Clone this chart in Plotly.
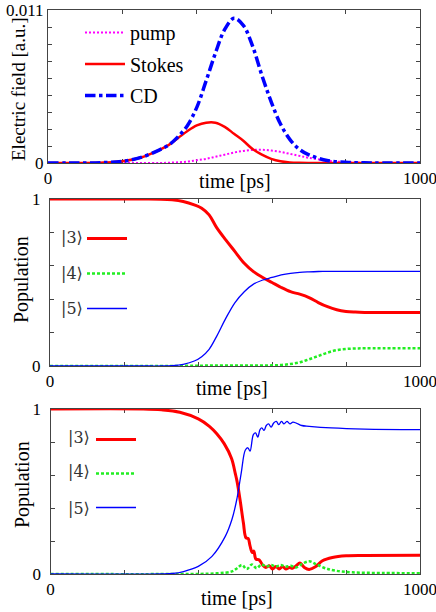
import plotly.graph_objects as go

W, H = 436, 612

# ---- panel 1: electric fields ----
p1_t = [0, 50, 100, 150, 200, 250, 300, 325, 350, 375, 400, 425, 450, 475, 500,
        525, 550, 575, 600, 625, 650, 675, 700, 750, 800, 850, 900, 1000]
p1_pump = [0, 0, 0, 0, 0, 0, 0, 0.00002, 0.00005, 0.0001, 0.0002, 0.0003, 0.00045, 0.0006, 0.00075,
           0.00087, 0.00094, 0.00095, 0.0009, 0.0008, 0.00066, 0.00052, 0.00038, 0.00017, 0.00006, 0.00002, 0, 0]
p1_stokes = [0, 0, 0, 0.00003, 0.00012, 0.0004, 0.00095, 0.0013, 0.0018, 0.0023, 0.0027, 0.0029, 0.0029, 0.0026, 0.0021,
             0.0016, 0.001, 0.0006, 0.0003, 0.00012, 0.00004, 0.00001, 0, 0, 0, 0, 0, 0]
p1_cd = [0, 0, 0, 0.00003, 0.00012, 0.0004, 0.00095, 0.0013, 0.0019, 0.0027, 0.004, 0.0059, 0.0079, 0.0096, 0.0104,
         0.0099, 0.0084, 0.0063, 0.0044, 0.0028, 0.0017, 0.001, 0.0006, 0.00018, 0.00005, 0.00001, 0, 0]

# ---- panel 2: populations ----
p2_t = [0, 250, 300, 330, 360, 390, 410, 430, 450, 475, 500, 525, 550, 575, 600,
        625, 650, 675, 700, 725, 750, 775, 800, 825, 850, 900, 1000]
p2_s3 = [1, 1, 0.999, 0.995, 0.985, 0.965, 0.945, 0.905, 0.83, 0.755, 0.685, 0.615, 0.565, 0.53, 0.5,
         0.47, 0.445, 0.43, 0.41, 0.38, 0.355, 0.337, 0.327, 0.323, 0.321, 0.32, 0.32]
p2_s4 = [0, 0, 0, 0, 0.001, 0.002, 0.002, 0.003, 0.003, 0.003, 0.003, 0.003, 0.003, 0.003, 0.004,
         0.006, 0.012, 0.022, 0.04, 0.06, 0.08, 0.095, 0.102, 0.105, 0.106, 0.106, 0.106]
p2_s5 = [0, 0, 0, 0.002, 0.01, 0.03, 0.056, 0.1, 0.176, 0.285, 0.38, 0.445, 0.49, 0.515, 0.53,
         0.545, 0.555, 0.561, 0.564, 0.566, 0.567, 0.567, 0.567, 0.567, 0.567, 0.567, 0.567]

# ---- panel 3: populations ----
p3_t3 = [0, 250, 300, 350, 400, 430, 450, 470, 490, 500, 505, 513, 522, 529, 535, 540, 546, 550, 556, 565,
         574, 583, 592, 601, 610, 619, 628, 637, 646, 655, 665, 675, 687, 700, 718, 736, 763, 800, 850, 1000]
p3_s3 = [1, 1, 0.995, 0.98, 0.94, 0.895, 0.85, 0.79, 0.70, 0.61, 0.56, 0.45, 0.31, 0.22, 0.215, 0.17, 0.13, 0.14, 0.09, 0.085,
         0.055, 0.04, 0.05, 0.03, 0.045, 0.03, 0.045, 0.03, 0.04, 0.035, 0.05, 0.066, 0.04, 0.028, 0.045, 0.08, 0.1, 0.11, 0.112, 0.113]
p3_t4 = [0, 350, 450, 491, 505, 518, 531, 545, 558, 571, 584, 597, 610, 623, 636, 650, 665, 680, 700, 718,
         745, 772, 817, 900, 1000]
p3_s4 = [0, 0, 0.004, 0.016, 0.035, 0.055, 0.03, 0.058, 0.035, 0.058, 0.045, 0.055, 0.045, 0.055, 0.045, 0.05, 0.04, 0.06, 0.077, 0.06,
         0.034, 0.02, 0.01, 0.006, 0.005]
p3_t5 = [0, 300, 330, 360, 400, 437, 473, 491, 504, 516, 527, 534, 540, 549, 555, 561, 567, 572, 578, 584,
         590, 597, 604, 611, 618, 625, 632, 640, 648, 656, 665, 680, 700, 760, 850, 1000]
p3_s5 = [0, 0, 0.003, 0.015, 0.046, 0.107, 0.228, 0.33, 0.45, 0.61, 0.75, 0.765, 0.745, 0.845, 0.855, 0.83, 0.875, 0.885, 0.87, 0.9,
         0.91, 0.89, 0.915, 0.925, 0.905, 0.925, 0.91, 0.925, 0.91, 0.92, 0.915, 0.9, 0.895, 0.885, 0.878, 0.875]

x_ticks = [0, 200, 400, 600, 800, 1000]
x_text = ["0", "", "", "", "", "1000"]
state_labels = ["|3\u27e9", "|4\u27e9", "|5\u27e9"]

RED, GREEN, BLUE, MAG = "#ff0000", "#22ee22", "#0000ff", "#ff00ff"
FONT = "Liberation Serif, Times New Roman, DejaVu Serif, serif"

fig = go.Figure()

# panel 1
fig.add_trace(go.Scatter(x=p1_t, y=p1_pump, name="pump", mode="lines", line_shape="spline",
                         line=dict(color=MAG, width=2, dash="2px,2px"), legend="legend", legendgroup="a"))
fig.add_trace(go.Scatter(x=p1_t, y=p1_stokes, name="Stokes", mode="lines", line_shape="spline",
                         line=dict(color=RED, width=2.5), legend="legend", legendgroup="b"))
fig.add_trace(go.Scatter(x=p1_t, y=p1_cd, name="CD", mode="lines", line_shape="spline",
                         line=dict(color=BLUE, width=3.5, dash="dashdot"), legend="legend", legendgroup="c"))

# panel 2
fig.add_trace(go.Scatter(x=p2_t, y=p2_s3, name=" ", mode="lines", line_shape="spline",
                         line=dict(color=RED, width=3), xaxis="x2", yaxis="y2", legend="legend2", legendgroup="d"))
fig.add_trace(go.Scatter(x=p2_t, y=p2_s4, name=" ", mode="lines", line_shape="spline",
                         line=dict(color=GREEN, width=2.5, dash="3px,2px"), xaxis="x2", yaxis="y2", legend="legend2", legendgroup="e"))
fig.add_trace(go.Scatter(x=p2_t, y=p2_s5, name=" ", mode="lines", line_shape="spline",
                         line=dict(color=BLUE, width=1.3), xaxis="x2", yaxis="y2", legend="legend2", legendgroup="f"))

# panel 3
fig.add_trace(go.Scatter(x=p3_t3, y=p3_s3, name=" ", mode="lines", line_shape="spline",
                         line=dict(color=RED, width=3), xaxis="x3", yaxis="y3", legend="legend3", legendgroup="g"))
fig.add_trace(go.Scatter(x=p3_t4, y=p3_s4, name=" ", mode="lines", line_shape="spline",
                         line=dict(color=GREEN, width=2.5, dash="3px,2px"), xaxis="x3", yaxis="y3", legend="legend3", legendgroup="h"))
fig.add_trace(go.Scatter(x=p3_t5, y=p3_s5, name=" ", mode="lines", line_shape="spline",
                         line=dict(color=BLUE, width=1.3), xaxis="x3", yaxis="y3", legend="legend3", legendgroup="i"))


# positions are given in page pixels
def px_x(v):
    return v / W


def px_y(v):
    return 1 - v / H


axis_style = dict(showline=True, mirror="allticks", linecolor="#444", linewidth=1, ticks="inside",
                  ticklen=4, tickcolor="#444", showgrid=False, zeroline=False, automargin=False,
                  ticklabeloverflow="allow",
                  tickfont=dict(family=FONT, size=17, color="black"), layer="below traces")

yt1 = [i * 0.011 / 9 for i in range(9)] + [0.011]
yl1 = ["0"] + [""] * 8 + ["0.011"]
yt2 = [0, 0.2, 0.4, 0.6, 0.8, 1]
yl2 = ["0", "", "", "", "", "1"]

fig.update_layout(
    width=W, height=H, margin=dict(l=0, r=0, t=0, b=0),
    paper_bgcolor="white", plot_bgcolor="white",
    font=dict(family=FONT, size=20, color="black"),
    xaxis=dict(domain=[px_x(48), px_x(420)], range=[0, 1000], tickvals=x_ticks, ticktext=x_text,
               anchor="y", **axis_style),
    yaxis=dict(domain=[px_y(163), px_y(10)], range=[0, 0.011], tickvals=yt1, ticktext=yl1,
               anchor="x", **axis_style),
    xaxis2=dict(domain=[px_x(50), px_x(420)], range=[0, 1000], tickvals=x_ticks, ticktext=x_text,
                anchor="y2", **axis_style),
    yaxis2=dict(domain=[px_y(366), px_y(199)], range=[0, 1], tickvals=yt2, ticktext=yl2,
                anchor="x2", ticklabelstandoff=5, **axis_style),
    xaxis3=dict(domain=[px_x(50.5), px_x(420)], range=[0, 1000], tickvals=x_ticks, ticktext=x_text,
                anchor="y3", **axis_style),
    yaxis3=dict(domain=[px_y(574), px_y(409)], range=[0, 1], tickvals=yt2, ticktext=yl2,
                anchor="x3", ticklabelstandoff=5, **axis_style),
    legend=dict(x=px_x(80), y=px_y(13), xanchor="left", yanchor="top", bgcolor="rgba(0,0,0,0)",
                font=dict(family=FONT, size=20), tracegroupgap=2.5, itemwidth=40),
    legend2=dict(x=px_x(82), y=px_y(219), xanchor="left", yanchor="top", bgcolor="rgba(0,0,0,0)",
                 font=dict(family=FONT, size=20), tracegroupgap=6, itemwidth=40),
    legend3=dict(x=px_x(91), y=px_y(420), xanchor="left", yanchor="top", bgcolor="rgba(0,0,0,0)",
                 font=dict(family=FONT, size=20), tracegroupgap=5, itemwidth=40),
)

ann = []
# axis titles
ann.append(dict(text="Electric field [a.u.]", x=px_x(18), y=px_y(90), textangle=-90,
                font=dict(family=FONT, size=19, color="black")))
ann.append(dict(text="Population", x=px_x(22), y=px_y(280), textangle=-90))
ann.append(dict(text="Population", x=px_x(22), y=px_y(485), textangle=-90))
ann.append(dict(text="time [ps]", x=px_x(235), y=px_y(181)))
ann.append(dict(text="time [ps]", x=px_x(232), y=px_y(388)))
ann.append(dict(text="time [ps]", x=px_x(237), y=px_y(598)))
# state labels
for lab, yy in zip(state_labels, [238, 273, 308]):
    ann.append(dict(text=lab, x=px_x(72), y=px_y(yy), font=dict(family="DejaVu Serif", size=16, color="#333")))
for lab, yy in zip(state_labels, [437, 471, 508]):
    ann.append(dict(text=lab, x=px_x(79), y=px_y(yy), font=dict(family="DejaVu Serif", size=16, color="#333")))

for a in ann:
    a.update(xref="paper", yref="paper", showarrow=False, xanchor="center", yanchor="middle")
    if "font" not in a:
        a["font"] = dict(family=FONT, size=20, color="black")
fig.update_layout(annotations=ann)

# drop the default page margin so the figure fills the window
fig.write_html("out.html", config={"displayModeBar": False},
               post_script="document.body.style.margin='0';document.body.style.overflow='hidden';")
